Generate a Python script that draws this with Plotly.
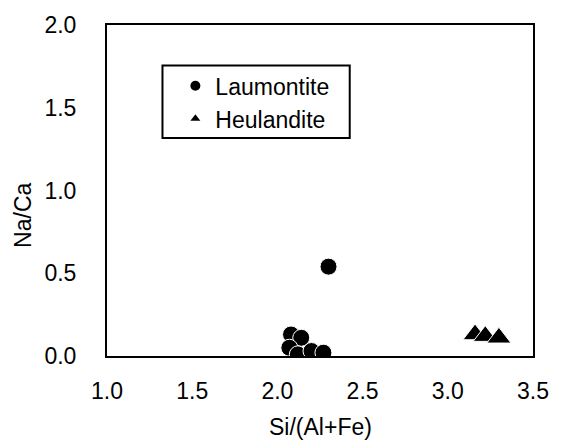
import plotly.graph_objects as go

# Data
laum_x = [2.30, 2.08, 2.14, 2.07, 2.12, 2.20, 2.27]
laum_y = [0.54, 0.13, 0.11, 0.05, 0.01, 0.03, 0.02]
heul_x = [3.16, 3.22, 3.30]
heul_y = [0.13, 0.12, 0.11]

x_ticks = [1.0, 1.5, 2.0, 2.5, 3.0, 3.5]
y_ticks = [0.0, 0.5, 1.0, 1.5, 2.0]

FONT = "Liberation Sans, Arial, sans-serif"
FS = 23

fig = go.Figure()
fig.add_trace(go.Scatter(
    x=laum_x, y=laum_y, mode="markers", name="Laumontite", legendgroup="a",
    marker=dict(symbol="circle", size=17, color="black", line=dict(color="white", width=1)),
))
fig.add_trace(go.Scatter(
    x=heul_x, y=heul_y, mode="markers", name="Heulandite", legendgroup="b",
    marker=dict(symbol="triangle-up", size=21, color="black", line=dict(color="white", width=1)),
))

fig.update_layout(
    width=561, height=448,
    margin=dict(l=107, r=24, t=13, b=92),
    paper_bgcolor="white", plot_bgcolor="white",
    font=dict(family=FONT, size=FS, color="black"),
    showlegend=True,
    legend=dict(
        x=0.1605, y=0.881, xanchor="left", yanchor="top",
        bgcolor="rgba(0,0,0,0)", borderwidth=0,
        itemsizing="constant", tracegroupgap=0,
        font=dict(family=FONT, size=FS, color="black"),
    ),
    xaxis=dict(
        range=[1.0, 3.5], tickvals=x_ticks, ticktext=[f"{v:.1f}" for v in x_ticks],
        showgrid=False, zeroline=False, showline=True, linecolor="black", linewidth=2,
        mirror=True, ticks="outside", ticklen=13, tickcolor="rgba(0,0,0,0)",
    ),
    yaxis=dict(
        range=[0.0, 2.0], tickvals=y_ticks, ticktext=[f"{v:.1f}" for v in y_ticks],
        showgrid=False, zeroline=False, showline=True, linecolor="black", linewidth=2,
        mirror=True, ticks="outside", ticklen=24, tickcolor="rgba(0,0,0,0)",
    ),
    shapes=[dict(
        type="rect", xref="paper", yref="paper",
        x0=(163 - 107) / 430, x1=(352 - 107) / 430,
        y0=(356 - 130) / 343, y1=(356 - 55) / 343,
        line=dict(color="black", width=2), fillcolor="rgba(0,0,0,0)", layer="above",
    )],
    annotations=[
        dict(text="Si/(Al+Fe)", xref="paper", yref="paper", x=0.5, y=(356 - 430) / 343,
             xanchor="center", yanchor="middle", showarrow=False, font=dict(size=FS)),
        dict(text="Na/Ca", xref="paper", yref="paper", x=(22 - 107) / 430, y=(356 - 210) / 343,
             xanchor="center", yanchor="middle", showarrow=False, textangle=-90, font=dict(size=FS)),
    ],
)

fig.write_html("out.html")
